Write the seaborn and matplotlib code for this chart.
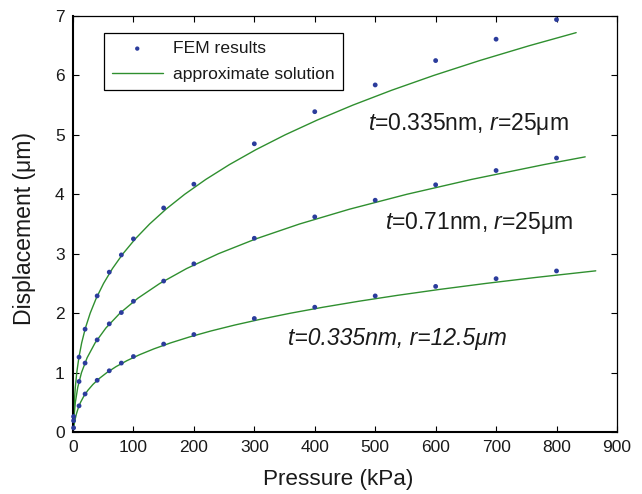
import matplotlib
matplotlib.use("Agg")
import matplotlib.pyplot as plt
import seaborn as sns
import pandas as pd

# FEM pressures (kPa) and displacements (um) for the three membranes
fem_pressure = [1, 10, 20, 40, 60, 80, 100, 150, 200, 300, 400, 500, 600, 700, 800]
fem_t0335_r25 = [0.26, 1.26, 1.73, 2.29, 2.69, 2.98, 3.25, 3.77, 4.17, 4.85, 5.39, 5.84, 6.25, 6.61, 6.94]
fem_t071_r25 = [0.19, 0.85, 1.16, 1.55, 1.82, 2.01, 2.20, 2.54, 2.83, 3.26, 3.62, 3.90, 4.16, 4.40, 4.61]
fem_t0335_r125 = [0.07, 0.44, 0.64, 0.87, 1.03, 1.16, 1.27, 1.48, 1.64, 1.91, 2.10, 2.29, 2.45, 2.58, 2.71]

# Approximate (analytical) solution, tabulated as (pressure, displacement)
approx1_p = [0, 0.36, 0.94, 2.12, 3.81, 6.24, 9.68, 14.36, 20.54, 28.47, 38.40, 50.58, 65.25,
             82.67, 103.09, 126.75, 153.91, 184.82, 219.72, 258.87, 302.51, 350.9, 404.28,
             462.91, 527.04, 596.90, 672.77, 754.87, 832.49]
approx1_w = [0, 0.1, 0.25, 0.5, 0.75, 1.0, 1.25, 1.5, 1.75, 2.0, 2.25, 2.5, 2.75, 3.0, 3.25, 3.5,
             3.75, 4.0, 4.25, 4.5, 4.75, 5.0, 5.25, 5.5, 5.75, 6.0, 6.25, 6.5, 6.72]
approx2_p = [0, 0.59, 1.58, 3.93, 7.83, 14.06, 23.39, 36.59, 54.44, 77.72, 107.21, 143.66, 187.87,
             240.61, 302.64, 374.76, 457.72, 552.31, 659.31, 779.48, 847.43]
approx2_w = [0, 0.1, 0.25, 0.5, 0.75, 1.0, 1.25, 1.5, 1.75, 2.0, 2.25, 2.5, 2.75, 3.0, 3.25, 3.5,
             3.75, 4.0, 4.25, 4.5, 4.63]
approx3_p = [0, 0.74, 1.51, 3.27, 5.53, 8.54, 12.53, 17.77, 24.49, 32.95, 43.40, 56.08, 71.24,
             89.13, 110.00, 134.10, 161.67, 192.96, 228.22, 267.71, 311.66, 360.32, 413.95,
             472.78, 537.09, 607.09, 683.05, 765.21, 864.9]
approx3_w = [0, 0.05, 0.1, 0.2, 0.3, 0.4, 0.5, 0.6, 0.7, 0.8, 0.9, 1.0, 1.1, 1.2, 1.3, 1.4, 1.5,
             1.6, 1.7, 1.8, 1.9, 2.0, 2.1, 2.2, 2.3, 2.4, 2.5, 2.6, 2.712]

x_ticks = [0, 100, 200, 300, 400, 500, 600, 700, 800, 900]
y_ticks = [0, 1, 2, 3, 4, 5, 6, 7]

sns.set_style("ticks")
plt.rcParams["font.family"] = ["Liberation Sans", "DejaVu Sans"]
plt.rcParams["mathtext.fontset"] = "custom"
plt.rcParams["mathtext.rm"] = "Liberation Sans"
plt.rcParams["mathtext.it"] = "Liberation Sans:italic"

DOT = "#2b3c9c"
GREEN = "#2f8f2f"
INK = "#1a1a1a"

fig = plt.figure(figsize=(6.42, 4.94), dpi=100)
ax = fig.add_axes([0.1137, 0.1255, 0.8473, 0.8421])

curves = [(approx1_p, approx1_w), (approx2_p, approx2_w), (approx3_p, approx3_w)]
for i, (p, w) in enumerate(curves):
    sns.lineplot(x=p, y=w, ax=ax, color=GREEN, linewidth=1.0, sort=False,
                 label="approximate solution" if i == 0 else None, zorder=2)

fem = pd.DataFrame({
    "pressure": fem_pressure * 3,
    "disp": fem_t0335_r25 + fem_t071_r25 + fem_t0335_r125,
})
sns.scatterplot(data=fem, x="pressure", y="disp", ax=ax, color=DOT, s=12,
                edgecolor="none", label="FEM results", zorder=3, clip_on=False)

ax.set_xlim(0, 900)
ax.set_ylim(0, 7)
ax.set_xticks(x_ticks)
ax.set_yticks(y_ticks)
ax.tick_params(direction="in", length=4, width=0.8, top=True, right=True,
               labelsize=12.5, colors="black", labelcolor=INK, pad=6)
for side in ["top", "right"]:
    ax.spines[side].set_linewidth(0.9)
for side in ["bottom", "left"]:
    ax.spines[side].set_linewidth(1.5)
for sp in ax.spines.values():
    sp.set_color("black")
    sp.set_visible(True)

ax.set_xlabel("Pressure (kPa)", fontsize=16.2, color=INK)
ax.set_ylabel("Displacement (μm)", fontsize=16.6, color=INK)
ax.xaxis.set_label_coords(0.487, -0.088)
ax.yaxis.set_label_coords(-0.068, 0.49)

handles, labels = ax.get_legend_handles_labels()
order = [labels.index("FEM results"), labels.index("approximate solution")]
leg = ax.legend([handles[k] for k in order], [labels[k] for k in order],
                loc="upper left", bbox_to_anchor=(0.057, 0.959), borderaxespad=0,
                fontsize=12.6, frameon=True, fancybox=False, framealpha=1,
                edgecolor="black", handlelength=2.9, handletextpad=0.6,
                markerscale=0.9, borderpad=0.45, labelspacing=0.6)
leg.get_frame().set_linewidth(0.9)
for t in leg.get_texts():
    t.set_color(INK)

ax.text(488, 5.08, "$t$=0.335nm, $r$=25μm", fontsize=16.5, va="baseline", ha="left", color=INK)
ax.text(517, 3.41, "$t$=0.71nm, $r$=25μm", fontsize=16.5, va="baseline", ha="left", color=INK)
ax.text(356, 1.46, "t=0.335nm, r=12.5μm", fontsize=16.5, va="baseline", ha="left",
        fontstyle="italic", color=INK)

fig.savefig("out.png", dpi=100)
